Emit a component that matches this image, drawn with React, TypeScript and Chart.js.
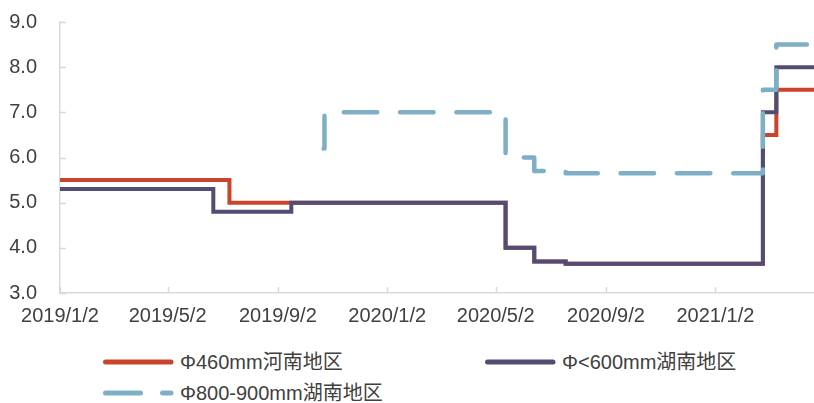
import React, { useEffect, useRef } from "react";
import { Chart, registerables } from "chart.js";

Chart.register(...registerables);

// ---- data ----
const startDate = "2019-01-02";
const endDate = "2021-04-22";
const tickDates = ["2019-01-02", "2019-05-02", "2019-09-02", "2020-01-02", "2020-05-02", "2020-09-02", "2021-01-02"];
const tickLabels = ["2019/1/2", "2019/5/2", "2019/9/2", "2020/1/2", "2020/5/2", "2020/9/2", "2021/1/2"];
const yMin = 3;
const yMax = 9;

const seriesNames = ["Φ460mm河南地区", "Φ<600mm湖南地区", "Φ800-900mm湖南地区"];

const henan460Dates = ["2019-01-02", "2019-07-10", "2020-05-13", "2020-06-14", "2020-07-19", "2021-02-24", "2021-03-11", "2021-04-22"];
const henan460Values = [5.5, 5.0, 4.0, 3.7, 3.65, 6.5, 7.5, 7.5];

const hunan600Dates = ["2019-01-02", "2019-06-22", "2019-09-17", "2020-05-13", "2020-06-14", "2020-07-19", "2021-02-24", "2021-03-11", "2021-04-22"];
const hunan600Values = [5.3, 4.8, 5.0, 4.0, 3.7, 3.65, 7.0, 8.0, 8.0];

const hunan800Dates = ["2019-10-23", "2019-10-24", "2020-05-13", "2020-06-14", "2020-07-19", "2021-02-24", "2021-03-11", "2021-04-22"];
const hunan800Values = [6.2, 7.0, 6.0, 5.7, 5.65, 7.5, 8.5, 8.5];

const colors = ["#C9442A", "#524D72", "#7EAFC5"];

const toDay = (d: string) => Math.round((Date.parse(d) - Date.parse(startDate)) / 86400000);
const toPoints = (dates: string[], values: number[]) => dates.map((d, i) => ({ x: toDay(d), y: values[i] }));

const FONT = "'Liberation Sans', Arial, 'Noto Sans CJK SC', sans-serif";
const TEXT = "#404040";
const AXIS = "#D9D9D9";

const innerTicks = {
  id: "innerTicks",
  beforeDatasetsDraw(chart: any) {
    const { ctx, scales } = chart;
    const x = scales.x;
    const y = scales.y;
    ctx.save();
    ctx.strokeStyle = AXIS;
    ctx.lineWidth = 1.5;
    y.ticks.forEach((t: any) => {
      const py = Math.round(y.getPixelForValue(t.value)) + 0.5;
      ctx.beginPath();
      ctx.moveTo(x.left, py);
      ctx.lineTo(x.left + 6, py);
      ctx.stroke();
    });
    x.ticks.forEach((t: any) => {
      const px = Math.round(x.getPixelForValue(t.value)) + 0.5;
      ctx.beginPath();
      ctx.moveTo(px, y.bottom);
      ctx.lineTo(px, y.bottom - 6);
      ctx.stroke();
    });
    ctx.restore();
  },
};

function ChartView() {
  const ref = useRef<HTMLCanvasElement | null>(null);
  useEffect(() => {
    if (!ref.current) return;
    const tickValues = tickDates.map(toDay);
    const chart = new Chart(ref.current, {
      type: "line",
      data: {
        datasets: [
          {
            label: seriesNames[2],
            data: toPoints(hunan800Dates, hunan800Values),
            borderColor: colors[2],
            borderWidth: 4.5,
            borderDash: [33.5, 22.8],
            borderCapStyle: "round",
            borderJoinStyle: "round",
            stepped: true,
            pointRadius: 0,
            fill: false,
            order: 1,
          },
          {
            label: seriesNames[1],
            data: toPoints(hunan600Dates, hunan600Values),
            borderColor: colors[1],
            borderWidth: 4,
            borderJoinStyle: "miter",
            stepped: true,
            pointRadius: 0,
            fill: false,
            order: 2,
          },
          {
            label: seriesNames[0],
            data: toPoints(henan460Dates, henan460Values),
            borderColor: colors[0],
            borderWidth: 4,
            borderJoinStyle: "miter",
            stepped: true,
            pointRadius: 0,
            fill: false,
            order: 3,
          },
        ] as any,
      },
      options: {
        animation: false,
        responsive: false,
        devicePixelRatio: 1,
        layout: { padding: { top: 10, left: 0, right: 0, bottom: 0 } },
        plugins: { legend: { display: false }, tooltip: { enabled: false } },
        scales: {
          x: {
            type: "linear",
            min: 0,
            max: toDay(endDate),
            grid: { display: false, drawTicks: false },
            border: { display: true, color: AXIS, width: 1.5 },
            afterBuildTicks: (axis: any) => {
              axis.ticks = tickValues.map((v) => ({ value: v }));
            },
            afterFit: (axis: any) => {
              axis.height = 47;
            },
            ticks: {
              autoSkip: false,
              maxRotation: 0,
              minRotation: 0,
              padding: 11,
              color: TEXT,
              font: { family: FONT, size: 20 },
              callback: (v: any) => {
                const i = tickValues.indexOf(Number(v));
                return i >= 0 ? tickLabels[i] : "";
              },
            },
          },
          y: {
            min: yMin,
            max: yMax,
            grid: { display: false, drawTicks: false },
            border: { display: true, color: AXIS, width: 1.5 },
            afterFit: (axis: any) => {
              axis.width = 60;
            },
            ticks: {
              stepSize: 1,
              padding: 23,
              color: TEXT,
              font: { family: FONT, size: 20 },
              callback: (v: any) => Number(v).toFixed(1),
            },
          },
        },
      },
      plugins: [innerTicks],
    });
    return () => chart.destroy();
  }, []);
  return (
    <canvas
      ref={ref}
      width={814}
      height={353}
      style={{ display: "block", position: "absolute", left: 0, top: -13, width: 814, height: 353 }}
    />
  );
}

function LegendLine({ color, dashed }: { color: string; dashed?: boolean }) {
  return (
    <svg width={80} height={12} style={{ position: "absolute", left: -80, top: -6 }}>
      <line
        x1={5.5}
        x2={71}
        y1={6}
        y2={6}
        stroke={color}
        strokeWidth={5}
        strokeLinecap="round"
        strokeDasharray={dashed ? "35 22" : undefined}
      />
    </svg>
  );
}

export default function App() {
  const items = [
    { name: seriesNames[0], color: colors[0], left: 180, top: 362, dashed: false },
    { name: seriesNames[1], color: colors[1], left: 562, top: 362, dashed: false },
    { name: seriesNames[2], color: colors[2], left: 180, top: 393, dashed: true },
  ];
  return (
    <div style={{ position: "absolute", left: 0, top: 0, width: 814, height: 403, background: "#fff", overflow: "hidden" }}>
      <ChartView />
      {items.map((it, i) => (
        <div key={i} style={{ position: "absolute", left: it.left, top: it.top, height: 0 }}>
          <LegendLine color={it.color} dashed={it.dashed} />
          <span
            style={{
              position: "absolute",
              left: 0,
              top: -12,
              lineHeight: "24px",
              whiteSpace: "nowrap",
              fontFamily: FONT,
              fontSize: 20,
              color: TEXT,
            }}
          >
            {it.name}
          </span>
        </div>
      ))}
    </div>
  );
}
